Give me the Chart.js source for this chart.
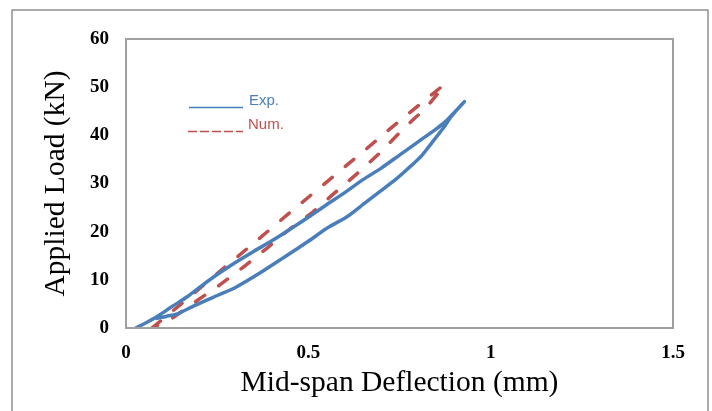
<!DOCTYPE html>
<html>
<head>
<meta charset="utf-8">
<script src="https://cdn.jsdelivr.net/npm/chart.js@4/dist/chart.umd.min.js"></script>
<style>
html,body{margin:0;padding:0;background:#fff;}
#wrap{position:relative;width:712px;height:411px;}
canvas{display:block;}
</style>
</head>
<body>
<div id="wrap"><canvas id="c" width="712" height="411"></canvas></div>
<script>
// ---- data ----
const seriesNames = ["Exp.", "Num."];
const expDeflection = [0.027,0.06,0.09,0.123,0.17,0.21,0.252,0.30,0.35,0.40,0.45,0.50,0.55,0.60,0.65,0.70,0.75,0.80,0.85,0.875,0.897,0.916,0.928,
                       0.911,0.892,0.868,0.839,0.811,0.772,0.742,0.696,0.651,0.606,0.555,0.496,0.43,0.367,0.30,0.252,0.189,0.143,0.11,0.085];
const expLoad =       [0,1.3,2.6,4.3,6.6,8.9,11.2,13.6,15.9,18.1,20.5,23.0,25.6,28.1,30.8,33.2,35.9,38.6,41.3,42.8,44.5,46.0,47.0,
                       45.6,43.9,41.3,38.5,35.8,33.0,31.0,28.3,25.7,23.1,20.9,17.8,14.5,11.4,8.4,6.8,4.7,3.0,2.4,2.0];
const numDeflection = [0.071,0.15,0.25,0.35,0.45,0.55,0.65,0.75,0.872,
                       0.853,0.82,0.792,0.76,0.694,0.633,0.573,0.513,0.45,0.387,0.321,0.26,0.195,0.126,0.071];
const numLoad =       [0,4.9,11.3,17.6,24.0,30.3,36.6,43.0,50.5,
                       48.5,45.4,43.6,41.3,36.2,32.0,28.1,24.1,20.6,16.6,12.6,9.1,5.7,2.0,0];
const xTicks = [0, 0.5, 1, 1.5];
const yTicks = [0, 10, 20, 30, 40, 50, 60];
const xTitle = "Mid-span Deflection (mm)";
const yTitle = "Applied Load (kN)";

const BLUE = "#4A7EBB";
const RED = "#C0504D";

function pts(xs, ys){ return xs.map((x,i)=>({x:x, y:ys[i]})); }

const frame = {
  id:'frame',
  beforeDraw(chart){
    const ctx = chart.ctx;
    ctx.save();
    ctx.strokeStyle = '#7f7f7f';
    ctx.lineWidth = 1.3;
    ctx.strokeRect(12, 10, 696, 430);
    ctx.restore();
  },
  afterDatasetsDraw(chart){
    const a = chart.chartArea, ctx = chart.ctx;
    ctx.save();
    ctx.strokeStyle = '#a0a0a0';
    ctx.lineWidth = 2;
    ctx.strokeRect(a.left, a.top, a.right - a.left, a.bottom - a.top);
    // legend
    ctx.lineCap = 'butt';
    ctx.lineWidth = 1.5;
    ctx.strokeStyle = BLUE;
    ctx.beginPath(); ctx.moveTo(189, 107.5); ctx.lineTo(243, 107.5); ctx.stroke();
    ctx.strokeStyle = RED;
    ctx.setLineDash([9,3]);
    ctx.beginPath(); ctx.moveTo(188, 131.5); ctx.lineTo(243, 131.5); ctx.stroke();
    ctx.setLineDash([]);
    ctx.font = "15px 'Liberation Sans', Arial, sans-serif";
    ctx.textBaseline = 'alphabetic';
    ctx.textAlign = 'left';
    ctx.fillStyle = BLUE;
    ctx.fillText(seriesNames[0], 249, 105);
    ctx.fillStyle = RED;
    ctx.fillText(seriesNames[1], 248, 129);
    ctx.restore();
  }
};

Chart.defaults.font.family = "'Liberation Serif', 'Times New Roman', serif";
Chart.defaults.color = '#000';

new Chart(document.getElementById('c'), {
  type: 'scatter',
  data: {
    datasets: [
      { label: seriesNames[0], data: pts(expDeflection, expLoad), showLine: true,
        borderColor: BLUE, backgroundColor: BLUE, borderWidth: 3.5, pointRadius: 0,
        borderJoinStyle: 'round', borderCapStyle: 'round', tension: 0.25 },
      { label: seriesNames[1], data: pts(numDeflection, numLoad), showLine: true,
        borderColor: RED, backgroundColor: RED, borderWidth: 3.5, pointRadius: 0,
        borderDash: [11, 17], borderCapStyle: 'round', borderJoinStyle: 'round', tension: 0 }
    ]
  },
  options: {
    responsive: false,
    animation: false,
    devicePixelRatio: 1,
    layout: { padding: { top: 39, right: 39, left: 0, bottom: 0 } },
    plugins: { legend: { display: false }, tooltip: { enabled: false } },
    scales: {
      x: {
        type: 'linear', min: 0, max: 1.5,
        afterBuildTicks(s){ s.ticks = xTicks.map(v=>({value:v})); },
        afterFit(s){ s.height = 83; },
        grid: { display: false, drawTicks: false },
        border: { display: false },
        ticks: { padding: 14, font: { size: 19, weight: 'bold' }, maxRotation: 0,
                 callback: v => String(v) },
        title: { display: true, text: xTitle, font: { size: 29.5 }, padding: { top: 0, bottom: 10 } }
      },
      y: {
        type: 'linear', min: 0, max: 60,
        afterBuildTicks(s){ s.ticks = yTicks.map(v=>({value:v})); },
        afterFit(s){ s.width = 126; },
        grid: { display: false, drawTicks: false },
        border: { display: false },
        ticks: { padding: 17, font: { size: 19, weight: 'bold' }, callback: v => String(v) },
        title: { display: true, text: yTitle, font: { size: 29.5 }, padding: { top: 39, bottom: 0 } }
      }
    }
  },
  plugins: [frame]
});
</script>
</body>
</html>
